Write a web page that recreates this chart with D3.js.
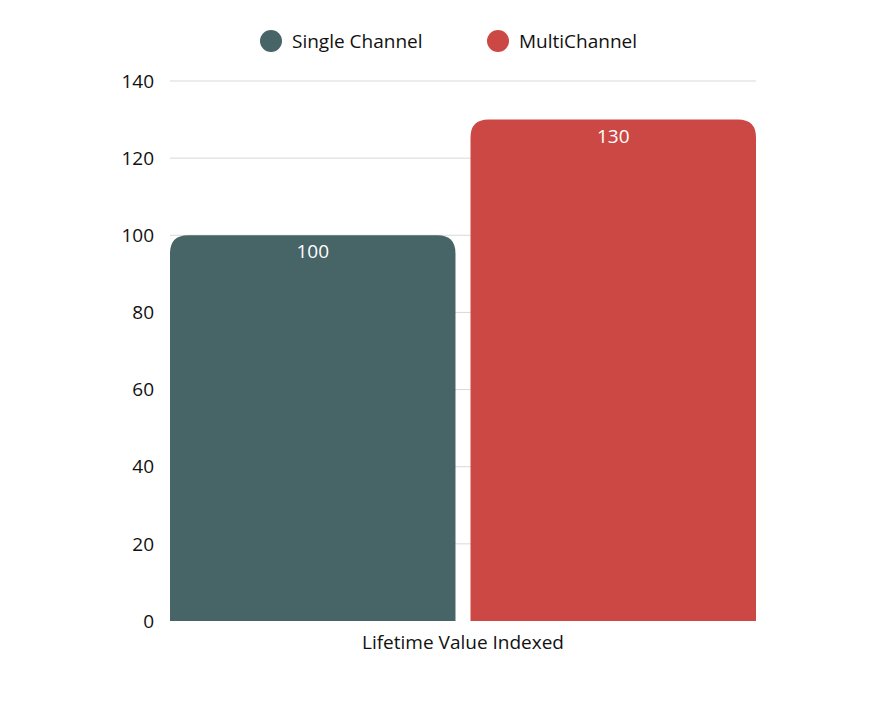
<!DOCTYPE html><html><head><meta charset="utf-8"><script src="https://cdn.jsdelivr.net/npm/d3@7"></script>
<style>body{margin:0;background:#fff}text{font-family:"Open Sans",sans-serif}</style></head><body>
<svg id="c" width="895" height="703"></svg>
<script>
const categories=["Lifetime Value Indexed"];
const seriesNames=["Single Channel","MultiChannel"];
const seriesValues=[100,130];
const colors=["#476467","#CC4844"];
const yTicks=[0,20,40,60,80,100,120,140];
const svg=d3.select("#c");
const x0=d3.scaleBand().domain(categories).range([170,756]);
const x1=d3.scaleBand().domain(seriesNames).range([0,x0.bandwidth()]).paddingInner(0.05);
const y=d3.scaleLinear().domain([0,140]).range([621,81]);
svg.append("g").selectAll("line").data(yTicks.slice(1)).join("line")
 .attr("x1",170).attr("x2",756).attr("y1",d=>y(d)).attr("y2",d=>y(d)).attr("stroke","#d9d9d9");
svg.append("g").selectAll("text").data(yTicks).join("text")
 .attr("x",154).attr("y",d=>y(d)).attr("dy","0.35em").attr("text-anchor","end")
 .attr("font-size",19).attr("fill","#111").text(d=>d);
const r=18;
seriesNames.forEach((s,i)=>{
 const bx=x0(categories[0])+x1(s), w=x1.bandwidth(), top=y(seriesValues[i]), bot=y(0);
 svg.append("path").attr("fill",colors[i]).attr("d",
  `M${bx},${bot}V${top+r}Q${bx},${top} ${bx+r},${top}H${bx+w-r}Q${bx+w},${top} ${bx+w},${top+r}V${bot}Z`);
 svg.append("text").attr("x",bx+w/2).attr("y",top+23).attr("text-anchor","middle")
  .attr("font-size",19).attr("fill","#fff").text(seriesValues[i]);
});
svg.append("text").attr("x",463).attr("y",649).attr("text-anchor","middle").attr("font-size",19).attr("fill","#111").text(categories[0]);
const lx=[271,498];
seriesNames.forEach((s,i)=>{
 svg.append("circle").attr("cx",lx[i]).attr("cy",41).attr("r",11).attr("fill",colors[i]);
 svg.append("text").attr("x",lx[i]+21).attr("y",41).attr("dy","0.35em").attr("font-size",19).attr("fill","#111").text(s);
});
</script></body></html>
